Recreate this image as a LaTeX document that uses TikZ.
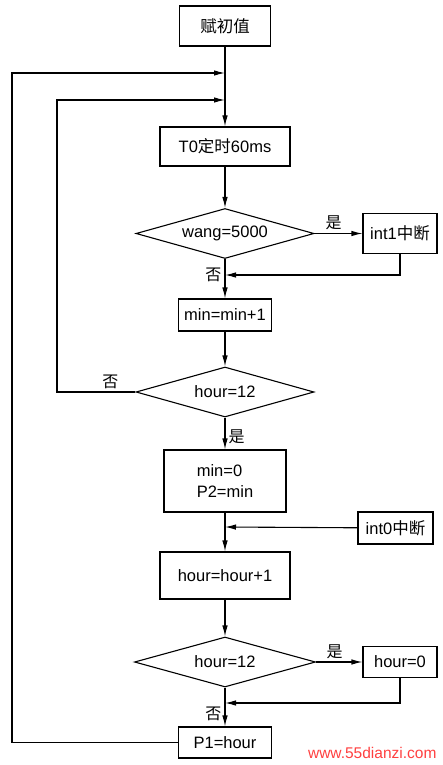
\documentclass[tikz,border=0pt]{standalone}
\usepackage{fontspec}
\setmainfont{Liberation Sans}
\newfontfamily\cjk{Noto Sans CJK SC}
\usetikzlibrary{shapes.geometric, arrows.meta}

\begin{document}
\begin{tikzpicture}[x=1pt, y=-1pt, >={Latex[length=11pt,width=5.5pt]}, line width=1.1pt,
  box/.style={draw, inner sep=0pt, font=\fontsize{16.5}{21}\selectfont},
  decision/.style={draw, diamond, aspect=3.5, inner sep=0pt, minimum width=178pt,
    minimum height=50pt, font=\fontsize{16.5}{21}\selectfont},
  tag/.style={font=\cjk\fontsize{16}{18}\selectfont, inner sep=3pt}]
  \useasboundingbox (0,0) rectangle (442,765);
  % main column
  \node[box, minimum width=91pt, minimum height=40pt] (init) at (225,26) {\cjk 赋初值};
  \node[box, minimum width=130pt, minimum height=39pt] (timer) at (225,146.5) {T0{\cjk 定时}60ms};
  \node[decision] (chkwang) at (225,233.5) {wang=5000};
  \node[box, minimum width=93pt, minimum height=32pt] (incmin) at (225,315) {min=min+1};
  \node[decision] (chkhour) at (225,392) {hour=12};
  \node[box, minimum width=122pt, minimum height=62pt, align=left] (reset) at (225,481) {min=0\\P2=min};
  \node[box, minimum width=130pt, minimum height=47pt] (inchour) at (225,575.5) {hour=hour+1};
  \node[decision, minimum width=181pt] (chkhour2) at (225,662) {hour=12};
  \node[box, minimum width=93pt, minimum height=31pt] (outp1) at (225,742.5) {P1=hour};
  % side boxes
  \node[box, minimum width=74pt, minimum height=40pt] (int1) at (400,233.5) {int1{\cjk 中断}};
  \node[box, minimum width=75pt, minimum height=32pt] (int0) at (395.5,528) {int0{\cjk 中断}};
  \node[box, minimum width=74pt, minimum height=31pt] (hourzero) at (400,662) {hour=0};
  % junctions
  \coordinate (jouter) at (225,73);
  \coordinate (jinner) at (225,100);
  \coordinate (jint1) at (225,275);
  \coordinate (jint0) at (225,527);
  \coordinate (jzero) at (225,703);
  \coordinate (outer) at (12,73);
  \coordinate (inner) at (57,100);
  % main flow
  \draw[->] (init) -- (timer);
  \draw[->] (timer) -- (chkwang);
  \draw[->] (chkwang) -- node[tag, above, pos=0.4] (yes1) {是} (int1);
  \draw[->] (int1.south) |- (jint1);
  \draw[->] (chkwang) -- node[tag, left, pos=0.41] (no1) {否} (incmin);
  \draw[->] (incmin) -- (chkhour);
  \draw[->] (chkhour) -- node[tag, right, pos=0.6] (yes2) {是} (reset);
  \draw[->] (chkhour.west) -| node[tag, above, pos=0.16] (no2) {否} (inner) -- (jinner);
  \draw[->] (reset) -- (inchour);
  \draw[->] (int0) -- (jint0);
  \draw[->] (inchour) -- (chkhour2);
  \draw[->] (chkhour2) -- node[tag, above, pos=0.4] (yes3) {是} (hourzero);
  \draw[->] (hourzero.south) |- (jzero);
  \draw[->] (chkhour2) -- node[tag, left, pos=0.68] (no3) {否} (outp1);
  \draw[->] (outp1.west) -| (outer) -- (jouter);
  % watermark
  \node[text=red!75, font=\fontsize{15.5}{17}\selectfont, anchor=east, inner sep=0pt] (mark) at (437,753) {www.55dianzi.com};
\end{tikzpicture}
\end{document}
